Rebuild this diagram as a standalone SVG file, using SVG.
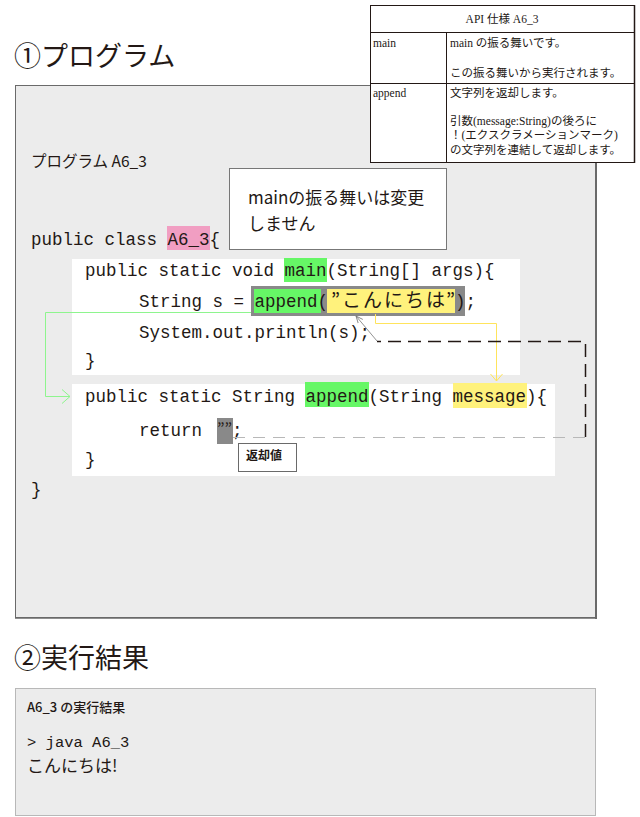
<svg xmlns="http://www.w3.org/2000/svg" width="640" height="817" viewBox="0 0 640 817">
<defs>
<style>
.jp { font-family: "Noto Sans CJK JP", sans-serif; fill: #231815; }
.code { font-family: "Liberation Mono", "Noto Sans CJK JP", monospace; font-size: 17.5px; fill: #231815; }
.cjk { font-family: "Noto Sans CJK JP", sans-serif; font-size: 19px; fill: #231815; }
.tbl { font-family: "Liberation Serif", "Noto Sans CJK JP", serif; font-size: 11.5px; fill: #231815; }
.tline { stroke: #231815; stroke-width: 1; fill: none; }
.panel { fill: #ffffff; }
.hlGreen { fill: #66f766; }
.hlYellow { fill: #fff27c; }
.hlPink { fill: #f19ec2; }
.hlGray { fill: #898989; }
</style>
<marker id="arrGreen" viewBox="0 0 10 16" refX="9" refY="8" markerWidth="10" markerHeight="16" markerUnits="userSpaceOnUse" orient="auto">
<path d="M1,1 L9,8 L1,15" fill="none" stroke="#8ef58e" stroke-width="1"/>
</marker>
<marker id="arrYellow" viewBox="0 0 8 14" refX="7" refY="7" markerWidth="8" markerHeight="14" markerUnits="userSpaceOnUse" orient="auto">
<path d="M0,1 L7,7 L0,13" fill="none" stroke="#ffe45c" stroke-width="1"/>
</marker>
<marker id="arrGray" viewBox="0 0 8 8" refX="7" refY="4" markerWidth="8" markerHeight="8" markerUnits="userSpaceOnUse" orient="auto">
<path d="M0,1 L7,4 L0,7" fill="none" stroke="#777777" stroke-width="0.8"/>
</marker>
</defs>
<rect x="0" y="0" width="640" height="817" fill="#ffffff"/>

<g id="heading1">
<text class="jp" x="14" y="66" font-size="27">①プログラム</text>
</g>

<g id="programBox">
<rect x="15.5" y="85.5" width="580" height="532" fill="#ececec" stroke="#6a6a6a" stroke-width="1"/>
<line x1="596" y1="85" x2="596" y2="619" stroke="#6a6a6a" stroke-width="2"/>
<line x1="15" y1="618" x2="597" y2="618" stroke="#6a6a6a" stroke-width="1.5"/>
<text class="jp" x="31" y="167" font-size="15.5">プログラム A6_3</text>
</g>

<g id="classLine">
<rect class="hlPink" x="167" y="226" width="43" height="24"/>
<text class="code" x="31" y="245">public class A6_3{</text>
</g>

<g id="mainPanel">
<rect class="panel" x="72" y="259" width="448" height="116"/>
<rect class="hlGreen" x="284" y="258" width="43" height="24"/>
<text class="code" x="85" y="276">public static void main(String[] args){</text>
<rect class="hlGray" x="251" y="286" width="214" height="30"/>
<rect class="hlGreen" x="254" y="289" width="67" height="24"/>
<rect class="hlYellow" x="327" y="289" width="128" height="24"/>
<text class="code" x="139" y="307">String s = append(</text>
<text class="cjk" x="331" y="307">”</text>
<text class="cjk" x="342" y="307" letter-spacing="2">こんにちは</text>
<text class="cjk" x="446" y="307">”</text>
<text class="code" x="455" y="307">);</text>
<text class="code" x="139" y="338">System.out.println(s);</text>
<text class="code" x="85" y="366">}</text>
</g>

<g id="appendPanel">
<rect class="panel" x="72" y="384" width="483" height="92"/>
<rect class="hlGreen" x="305" y="382" width="64" height="25"/>
<rect class="hlYellow" x="453" y="383" width="74" height="25"/>
<text class="code" x="85" y="402">public static String append(String message){</text>
<text class="code" x="139" y="436">return</text>
<rect class="hlGray" x="217" y="418" width="16" height="26"/>
<text class="jp" x="217" y="435" font-size="16">””</text>
<text class="code" x="232" y="436">;</text>
<text class="code" x="85" y="465">}</text>
</g>

<g id="closeBrace">
<text class="code" x="31" y="495">}</text>
</g>

<g id="returnLabel">
<rect x="238.5" y="443.5" width="58" height="28" fill="#ffffff" stroke="#6a6a6a" stroke-width="1"/>
<text class="jp" x="246" y="460" font-size="12" font-weight="bold">返却値</text>
</g>

<g id="noteMain">
<rect x="229.5" y="168.5" width="217" height="81" fill="#ffffff" stroke="#777777" stroke-width="1"/>
<text class="jp" x="248" y="204" font-size="17">mainの振る舞いは変更</text>
<text class="jp" x="248" y="230" font-size="17">しません</text>
</g>

<g id="connectors">
<path d="M251,312.5 H45.5 V396.5 H70" fill="none" stroke="#8ef58e" stroke-width="1" marker-end="url(#arrGreen)"/>
<path d="M375.5,314 V323.5 H496.5 V381" fill="none" stroke="#ffe45c" stroke-width="1" marker-end="url(#arrYellow)"/>
<path d="M233,437.5 H585" fill="none" stroke="#b8b8b8" stroke-width="1" stroke-dasharray="12 8"/>
<path d="M585.5,437 V341.5 H377" fill="none" stroke="#231815" stroke-width="1.5" stroke-dasharray="13 7"/>
<line x1="377" y1="341" x2="356" y2="316" stroke="#777777" stroke-width="0.8" marker-end="url(#arrGray)"/>
</g>

<g id="apiTable">
<rect x="370.5" y="5.5" width="264" height="157" fill="#ffffff" stroke="#231815" stroke-width="1"/>
<line class="tline" x1="370" y1="32.5" x2="635" y2="32.5"/>
<line class="tline" x1="370" y1="83.5" x2="635" y2="83.5"/>
<line class="tline" x1="446.5" y1="32" x2="446.5" y2="163"/>
<line x1="634.5" y1="5" x2="634.5" y2="163" stroke="#231815" stroke-width="1.5"/>
<text class="tbl" x="502" y="23" text-anchor="middle">API 仕様 A6_3</text>
<text class="tbl" x="373" y="47">main</text>
<text class="tbl" x="450" y="47">main の振る舞いです。</text>
<text class="tbl" x="450" y="77">この振る舞いから実行されます。</text>
<text class="tbl" x="373" y="97">append</text>
<text class="tbl" x="450" y="97">文字列を返却します。</text>
<text class="tbl" x="450" y="125">引数(message:String)の後ろに</text>
<text class="tbl" x="450" y="139">！(エクスクラメーションマーク)</text>
<text class="tbl" x="450" y="154">の文字列を連結して返却します。</text>
</g>

<g id="heading2">
<text class="jp" x="14" y="668" font-size="27">②実行結果</text>
</g>

<g id="resultBox">
<rect x="15.5" y="688.5" width="580" height="127" fill="#ececec" stroke="#b8b8b8" stroke-width="1"/>
<text class="jp" x="27" y="712" font-size="13" font-weight="500">A6_3 の実行結果</text>
<text class="code" x="27" y="747" style="font-size:15.5px">&gt; java A6_3</text>
<text class="jp" x="27" y="772" font-size="17">こんにちは!</text>
</g>
</svg>
